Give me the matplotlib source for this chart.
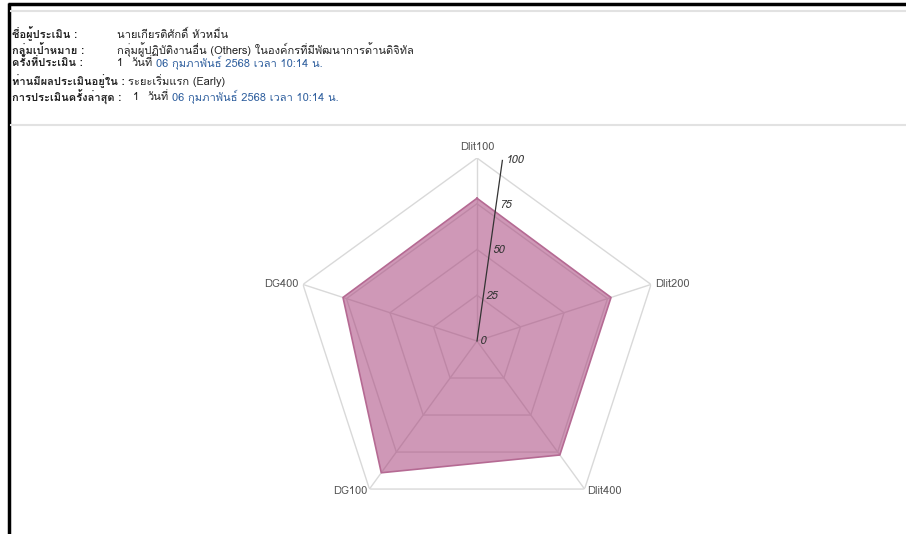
import numpy as np
import matplotlib
matplotlib.use("Agg")
import matplotlib.pyplot as plt
from matplotlib import font_manager
from matplotlib.ft2font import FT2Font
from matplotlib.lines import Line2D

# ข้อมูล
categories = ["Dlit100", "Dlit200", "Dlit400", "DG100", "DG400"]
scores = [78, 77, 77, 89, 77]
ring_levels = [25, 50, 75, 100]
ring_labels = ["0", "25", "50", "75", "100"]

header_labels = ["ชื่อผู้ประเมิน :", "กลุ่มเป้าหมาย :", "ครั้งที่ประเมิน :",
                 "ท่านมีผลประเมินอยู่ใน :", "การประเมินครั้งล่าสุด :"]
assessor = "นายเกียรติศักดิ์ หัวหมื่น"
target_group = "กลุ่มผู้ปฏิบัติงานอื่น (Others) ในองค์กรที่มีพัฒนาการด้านดิจิทัล"
round_no = "1"
date_word = "วันที่"
date_text = "06 กุมภาพันธ์ 2568 เวลา 10:14 น."
level_text = "ระยะเริ่มแรก (Early)"


def find_thai_family():
    for f in font_manager.fontManager.ttflist:
        try:
            if 0x0E01 in FT2Font(f.fname).get_charmap():
                return f.name
        except Exception:
            pass
    return None


thai = find_thai_family()
families = [thai, "DejaVu Sans"] if thai else ["DejaVu Sans"]
plt.rcParams["font.family"] = families

W, H = 906, 534
fig = plt.figure(figsize=(W / 100, H / 100), dpi=100)
fig.patch.set_facecolor("white")


def px(x, y):
    return x / W, 1 - y / H


# กรอบและเส้นคั่น
fig.add_artist(Line2D([8 / W, 1], [1 - 4 / H] * 2, color="black", lw=2.5,
                      solid_capstyle="butt"))
fig.add_artist(Line2D([9 / W] * 2, [0, 1 - 3 / H], color="black", lw=2.5,
                      solid_capstyle="butt"))
for yy in (11, 125):
    fig.add_artist(Line2D([11 / W, 1], [1 - yy / H] * 2, color="#e2e2e2", lw=1.5))

# ส่วนหัว
fs = 8
dark = "#222222"
blue = "#2f5f9e"
rows_y = [34, 50, 63, 81, 97]
for lab, yy in zip(header_labels, rows_y):
    fig.text(*px(12, yy), lab, fontsize=fs, fontweight="bold", color=dark, va="center")

fig.text(*px(117, rows_y[0]), assessor, fontsize=fs, color=dark, va="center")
fig.text(*px(117, rows_y[1]), target_group, fontsize=fs, color=dark, va="center")
fig.text(*px(117, rows_y[2]), round_no, fontsize=fs, color=dark, va="center")
fig.text(*px(131, rows_y[2]), date_word, fontsize=fs, color=dark, va="center")
fig.text(*px(156, rows_y[2]), date_text, fontsize=fs, color=blue, va="center")
fig.text(*px(128, rows_y[3]), level_text, fontsize=fs, color=dark, va="center")
fig.text(*px(133, rows_y[4]), round_no, fontsize=fs, color=dark, va="center")
fig.text(*px(148, rows_y[4]), date_word, fontsize=fs, color=dark, va="center")
fig.text(*px(172, rows_y[4]), date_text, fontsize=fs, color=blue, va="center")

# เรดาร์
cx, cy, R = 477, 341, 183
ax = fig.add_axes([(cx - R) / W, 1 - (cy + R) / H, 2 * R / W, 2 * R / H], polar=True)
ax.set_theta_zero_location("N")
ax.set_theta_direction(-1)
ax.set_ylim(0, 100)
ax.grid(False)
ax.spines["polar"].set_visible(False)
ax.set_xticks([])
ax.set_yticks([])
ax.patch.set_alpha(0)

n = len(categories)
angles = np.linspace(0, 2 * np.pi, n, endpoint=False)
closed = np.append(angles, angles[0])

for lv in ring_levels:
    ax.plot(closed, [lv] * (n + 1), color="#d9d9d9", lw=1, zorder=1)
for a in angles:
    ax.plot([a, a], [0, 100], color="#d9d9d9", lw=1, zorder=1)

vals = np.append(scores, scores[0])
ax.fill(closed, vals, color="#a8447c", alpha=0.55, zorder=2, lw=0)
ax.plot(closed, vals, color="#b56a93", lw=1.2, zorder=3)

# แกนรัศมีที่เอียง
tilt = np.deg2rad(8)
ax.plot([tilt, tilt], [0, 101], color="#333333", lw=0.9, zorder=4)
for lv, txt in zip([0] + ring_levels, ring_labels):
    ax.annotate(txt, xy=(tilt, lv), xytext=(2, 0), textcoords="offset points",
                fontsize=8, style="italic", color="#333333",
                ha="left", va="center", zorder=5)

for a, name in zip(angles, categories):
    s, c = np.sin(a), np.cos(a)
    ha = "center" if abs(s) < 0.1 else ("left" if s > 0 else "right")
    va = "bottom" if c > 0.9 else "center"
    ax.annotate(name, xy=(a, 100), xytext=(3 * s, 4 * c if c > 0.9 else 2 * c),
                textcoords="offset points", ha=ha, va=va,
                fontsize=8, color="#555555", annotation_clip=False)

fig.savefig("out.png", dpi=100)
